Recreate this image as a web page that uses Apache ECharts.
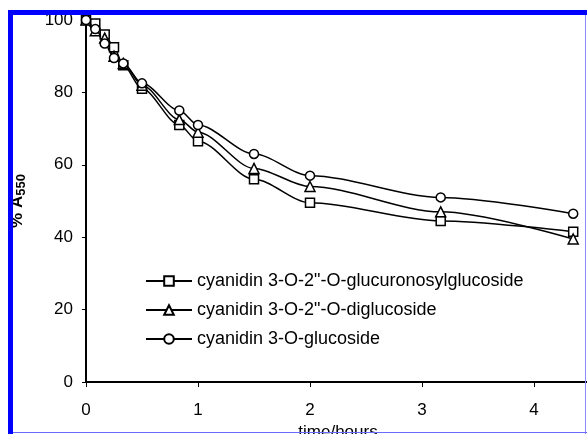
<!DOCTYPE html>
<html><head><meta charset="utf-8">
<script src="https://cdn.jsdelivr.net/npm/echarts@6/dist/echarts.min.js"></script>
<style>html,body{margin:0;padding:0;background:#fff}#c{width:587px;height:434px}</style>
</head><body><div id="c"></div>
<script>
const times = [0, 0.083, 0.167, 0.25, 0.333, 0.5, 0.833, 1, 1.5, 2, 3.167, 4.35];
const glucuronosylglucoside = [100, 99, 96, 92.5, 87.5, 81, 71, 66.5, 56, 49.5, 44.5, 41.5];
const diglucoside = [100, 97, 95, 90, 88, 82, 72.5, 69, 59, 54, 47, 39.5];
const glucoside = [100, 97.5, 93.5, 89.5, 88, 82.5, 75, 71, 63, 57, 51, 46.5];
const seriesNames = ['cyanidin 3-O-2"-O-glucuronosylglucoside', 'cyanidin 3-O-2"-O-diglucoside', 'cyanidin 3-O-glucoside'];
const yTicks = [0, 20, 40, 60, 80, 100];
const xTicks = [0, 1, 2, 3, 4];

const FONT = 'Liberation Sans, Arial, sans-serif';
function pairs(v){ return times.map((t,i)=>[t, v[i]]); }
function mk(name, vals, symbol, size){
  return {
    name: name, type: 'line', data: pairs(vals), smooth: 0.3, smoothMonotone: 'x',
    symbol: symbol, symbolSize: size, showSymbol: true,
    lineStyle: {color: '#000', width: 1.5},
    itemStyle: {color: '#fff', borderColor: '#000', borderWidth: 1.5},
    emphasis: {disabled: true}
  };
}
const chart = echarts.init(document.getElementById('c'), null, {renderer: 'canvas'});
chart.setOption({
  animation: false,
  backgroundColor: '#fff',
  grid: {left: 86, right: -3, top: 20, bottom: 52, containLabel: false, outerBoundsMode: 'none'},
  legend: {
    orient: 'vertical', left: 140, top: 267, itemWidth: 46, itemHeight: 12, itemGap: 11,
    textStyle: {fontSize: 18, color: '#000', fontFamily: FONT},
    data: seriesNames
  },
  xAxis: {
    type: 'value', min: 0, max: 4.5, interval: 1,
    axisLine: {onZero: false, lineStyle: {color: '#000', width: 2}},
    axisTick: {show: true, inside: false, length: 5, lineStyle: {color: '#000', width: 1}},
    axisLabel: {fontSize: 17, color: '#000', fontFamily: FONT, margin: 20,
      formatter: v => xTicks.includes(v) ? String(v) : ''},
    splitLine: {show: false},
    name: 'time/hours', nameLocation: 'middle', nameGap: 42,
    nameTextStyle: {fontSize: 17, color: '#000', fontFamily: FONT}
  },
  yAxis: {
    type: 'value', min: 0, max: 100, interval: 20,
    axisLine: {show: true, lineStyle: {color: '#000', width: 2}},
    axisTick: {show: true, inside: false, length: 4, lineStyle: {color: '#000', width: 1}},
    axisLabel: {fontSize: 17, color: '#000', fontFamily: FONT, margin: 13,
      formatter: v => yTicks.includes(v) ? String(v) : ''},
    splitLine: {show: false},
    name: '{a|% A}{s|550}', nameLocation: 'middle', nameRotate: 90, nameGap: 58,
    nameTextStyle: {
      rich: {
        a: {fontSize: 17, fontWeight: 'bold', color: '#000', fontFamily: FONT},
        s: {fontSize: 13, fontWeight: 'bold', color: '#000', fontFamily: FONT, padding: [8, 0, 0, 0]}
      }
    }
  },
  series: [
    mk(seriesNames[0], glucuronosylglucoside, 'rect', 9),
    mk(seriesNames[1], diglucoside, 'triangle', 10),
    mk(seriesNames[2], glucoside, 'circle', 9)
  ],
  graphic: [
    {type: 'rect', shape: {x: 8, y: 10, width: 579, height: 5}, style: {fill: '#0000ff'}, z: 100},
    {type: 'rect', shape: {x: 8, y: 10, width: 5, height: 424}, style: {fill: '#0000ff'}, z: 100},
    {type: 'rect', shape: {x: 585, y: 15, width: 1, height: 419}, style: {fill: '#8c8cff'}, z: 100},
    {type: 'rect', shape: {x: 13, y: 432, width: 574, height: 1}, style: {fill: '#6a6aff'}, z: 100}
  ]
});
</script></body></html>
